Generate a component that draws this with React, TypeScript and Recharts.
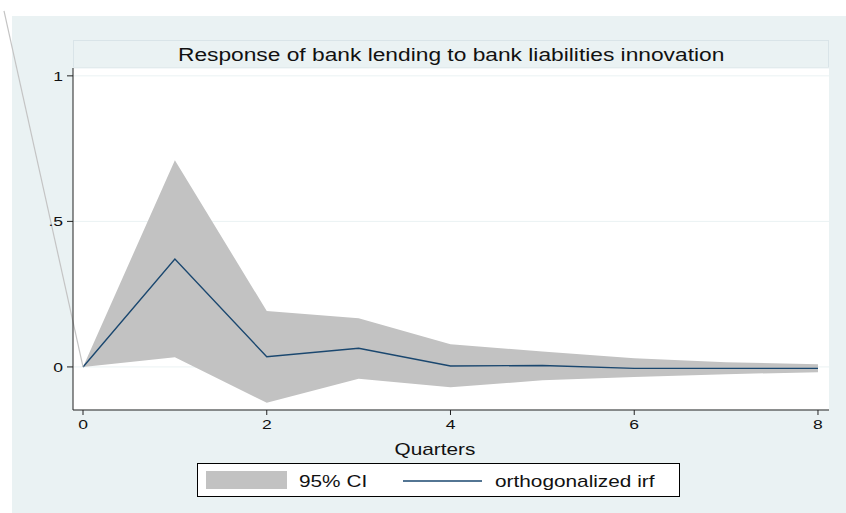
import { ComposedChart, Area, Line, XAxis, YAxis, CartesianGrid, ReferenceLine, Legend, Label } from 'recharts';

const quarters = [0, 1, 2, 3, 4, 5, 6, 7, 8];
const irf = [0, 0.371, 0.035, 0.064, 0.003, 0.005, -0.005, -0.005, -0.005];
const ciLower = [0, 0.033, -0.123, -0.041, -0.07, -0.046, -0.035, -0.025, -0.018];
const ciUpper = [0, 0.71, 0.192, 0.167, 0.078, 0.053, 0.03, 0.016, 0.009];
const xTicks = [0, 2, 4, 6, 8];
const yTicks = [0, 0.5, 1];
// stray grey stroke that runs off the top-left of the original graph
const strayLine = [
  { x: 0, y: 0 },
  { x: -0.86, y: 1.223 },
];

const rows = quarters.map((q, i) => ({ q, irf: irf[i], ci: [ciLower[i], ciUpper[i]] }));

const FONT = '"Liberation Sans", Arial, Helvetica, sans-serif';
const STRETCH = 1.3;
const NAVY = '#1a476f';
const BAND = '#c2c2c2';

const fmtY = (v: number) => (v === 0 ? '0' : v === 1 ? '1' : String(v).replace(/^0/, ''));

const XTick = (props: any) => {
  const { x, y, payload } = props;
  return (
    <g transform={`translate(${x},${y}) scale(${STRETCH},1)`}>
      <text x={0} y={12} textAnchor="middle" fontSize={13.5} fontFamily={FONT} fill="#111">
        {payload.value}
      </text>
    </g>
  );
};

const YTick = (props: any) => {
  const { x, y, payload } = props;
  return (
    <g transform={`translate(${x - 2},${y}) scale(${STRETCH},1)`}>
      <text x={0} y={5} textAnchor="end" fontSize={13.5} fontFamily={FONT} fill="#111">
        {fmtY(payload.value)}
      </text>
    </g>
  );
};

const AxisTitle = (props: any) => {
  const { viewBox } = props;
  const cx = viewBox.x + viewBox.width / 2 - 16;
  return (
    <g transform={`translate(${cx},${viewBox.y + 45}) scale(${STRETCH},1)`}>
      <text x={0} y={0} textAnchor="middle" fontSize={16} fontFamily={FONT} fill="#111">
        Quarters
      </text>
    </g>
  );
};

const LegendBox = (props: any) => {
  const payload = props.payload || [];
  const band = payload.find((p: any) => p.value === '95% CI');
  const line = payload.find((p: any) => p.value === 'orthogonalized irf');
  return (
    <svg width={483} height={34} style={{ display: 'block' }}>
      <rect x={0.5} y={0.5} width={482} height={33} fill="#fff" stroke="#000" />
      <rect x={9} y={8} width={81} height={18} fill={BAND} />
      <g transform={`translate(102,24) scale(${STRETCH},1)`}>
        <text fontSize={16} fontFamily={FONT} fill="#111">
          {band ? band.value : '95% CI'}
        </text>
      </g>
      <line x1={206} x2={285} y1={18} y2={18} stroke={NAVY} strokeWidth={1.5} />
      <g transform={`translate(298,24) scale(${STRETCH},1)`}>
        <text fontSize={16} fontFamily={FONT} fill="#111">
          {line ? line.value : 'orthogonalized irf'}
        </text>
      </g>
    </svg>
  );
};

export default function App() {
  return (
    <div style={{ position: 'absolute', left: 0, top: 0, width: 846, height: 513, background: '#fff', fontFamily: FONT }}>
      <div style={{ position: 'absolute', left: 12, top: 16, width: 834, height: 497, background: '#eaf2f3' }} />
      <div
        style={{
          position: 'absolute',
          left: 73,
          top: 40,
          width: 756,
          height: 28,
          boxSizing: 'border-box',
          border: '1px solid #d9e4e8',
          background: '#eaf2f3',
          display: 'flex',
          alignItems: 'center',
          justifyContent: 'center',
        }}
      >
        <span
          style={{
            display: 'inline-block',
            fontSize: 17.5,
            color: '#111',
            transform: `scaleX(${STRETCH})`,
            whiteSpace: 'nowrap',
            marginTop: 3,
          }}
        >
          Response of bank lending to bank liabilities innovation
        </span>
      </div>
      <div style={{ position: 'absolute', left: 0, top: 0 }}>
        <ComposedChart width={846} height={513} data={rows} margin={{ top: 68, right: 17, bottom: 73, left: 0 }}>
          <CartesianGrid vertical={false} stroke="#eaf2f3" fill="#ffffff" />
          <XAxis
            type="number"
            dataKey="q"
            domain={[-0.109, 8.12]}
            ticks={xTicks}
            allowDataOverflow
            height={30}
            tickSize={5}
            tickMargin={2}
            stroke="#222"
            tick={<XTick />}
            label={<Label content={<AxisTitle />} />}
          />
          <YAxis
            type="number"
            domain={[-0.148, 1.027]}
            ticks={yTicks}
            allowDataOverflow
            width={73}
            tickSize={6}
            tickMargin={2}
            stroke="#222"
            tick={<YTick />}
          />
          <Area
            type="linear"
            dataKey="ci"
            name="95% CI"
            fill={BAND}
            fillOpacity={1}
            stroke="none"
            isAnimationActive={false}
          />
          <Line
            type="linear"
            dataKey="irf"
            name="orthogonalized irf"
            stroke={NAVY}
            strokeWidth={1.4}
            dot={false}
            isAnimationActive={false}
          />
          <ReferenceLine segment={strayLine} ifOverflow="visible" stroke="#c4c4c4" strokeWidth={1.2} />
          <Legend
            layout="horizontal"
            verticalAlign="middle"
            align="center"
            wrapperStyle={{ position: 'absolute', left: 197, top: 463, width: 483, height: 34 }}
            content={<LegendBox />}
          />
        </ComposedChart>
      </div>
    </div>
  );
}
